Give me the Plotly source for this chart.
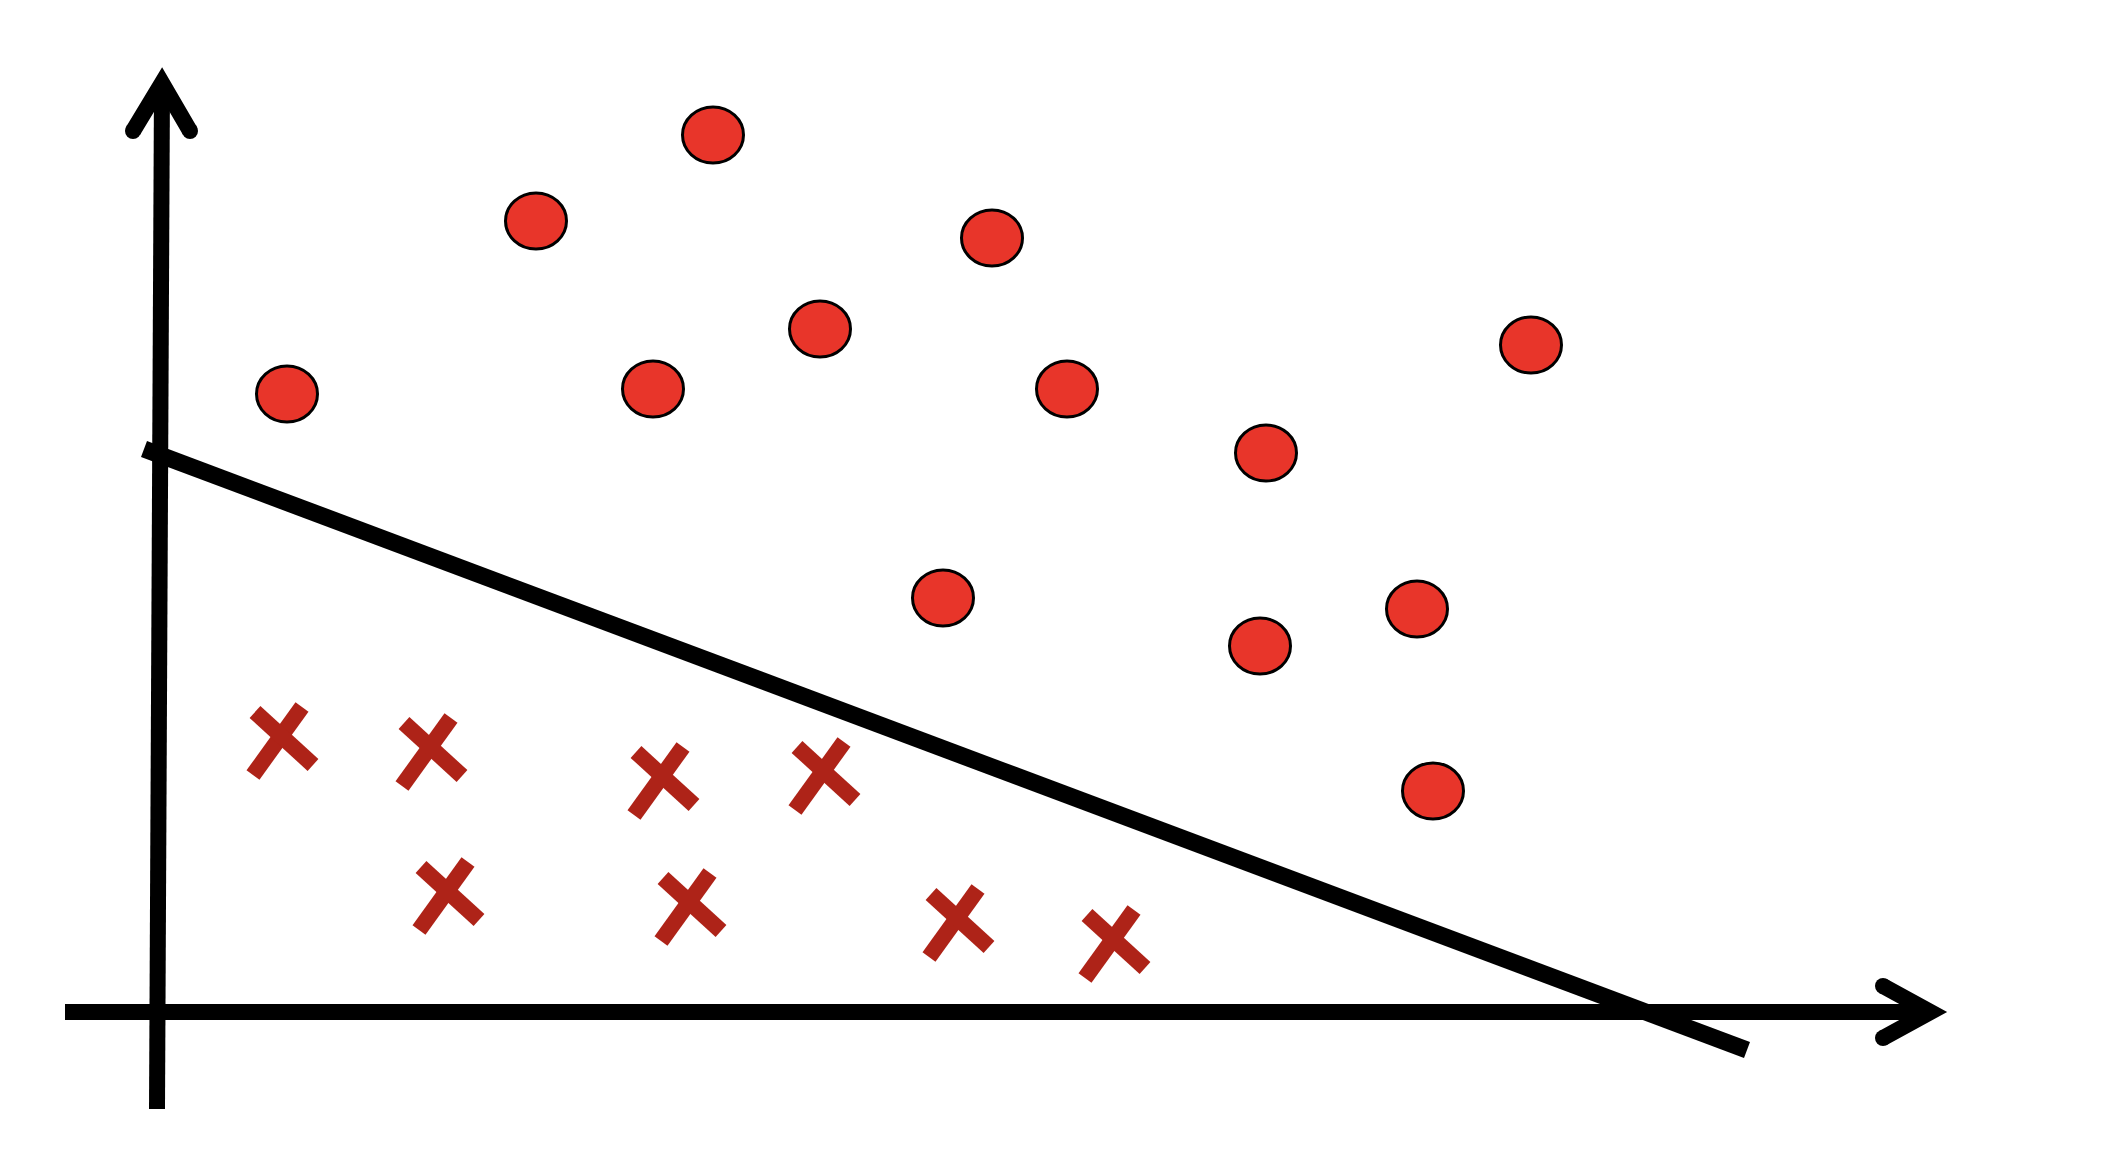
import plotly.graph_objects as go

# ---- data (axis units: origin at the axes crossing) ----
class_pos_x = [1.30, 3.79, 5.56, 4.96, 6.63, 8.35, 9.10, 11.09, 13.74, 7.86, 11.03, 12.60, 12.76]
class_pos_y = [6.18, 7.91, 8.77, 6.23, 6.83, 7.74, 6.23, 5.59, 6.67, 4.14, 3.66, 4.03, 2.21]

class_neg_x = [1.24, 2.73, 5.05, 6.66, 2.90, 5.32, 8.00, 9.56]
class_neg_y = [2.76, 2.65, 2.36, 2.41, 1.21, 1.10, 0.94, 0.73]

boundary_x = [-0.13, 15.90]
boundary_y = [5.63, -0.38]

xaxis_line_x = [-0.92, 17.735]
xaxis_line_y = [0.0, 0.0]
yaxis_line_x = [0.0, 0.05]
yaxis_line_y = [-0.97, 9.29]

# ---- styles ----
RED = "#E8352A"
DARK_RED = "#AE2318"
AXW = 16

fig = go.Figure()

fig.add_trace(go.Scatter(x=xaxis_line_x, y=xaxis_line_y, mode="lines",
                         line=dict(color="black", width=AXW), hoverinfo="skip"))
fig.add_trace(go.Scatter(x=yaxis_line_x, y=yaxis_line_y, mode="lines",
                         line=dict(color="black", width=AXW), hoverinfo="skip"))
fig.add_trace(go.Scatter(x=boundary_x, y=boundary_y, mode="lines",
                         line=dict(color="black", width=17), hoverinfo="skip"))

shapes = []

# arrowheads (pixel geometry anchored at the axis ends)
def arrow(ax, ay, arms):
    (x1, y1), (x2, y2) = arms
    shapes.append(dict(type="path", xref="x", yref="y",
                       xsizemode="pixel", ysizemode="pixel", xanchor=ax, yanchor=ay,
                       path=f"M {x1} {y1} L 0 0 L {x2} {y2}",
                       line=dict(color="black", width=AXW), fillcolor="rgba(0,0,0,0)"))
    for (px, py) in arms:
        shapes.append(dict(type="circle", xref="x", yref="y",
                           xsizemode="pixel", ysizemode="pixel", xanchor=ax, yanchor=ay,
                           x0=px - AXW / 2, x1=px + AXW / 2, y0=py - AXW / 2, y1=py + AXW / 2,
                           fillcolor="black", line=dict(width=0)))

arrow(xaxis_line_x[1], xaxis_line_y[1], [(-47.5, 26), (-47.5, -26)])
arrow(yaxis_line_x[1], yaxis_line_y[1], [(-29, -48), (28, -48)])

# circles (ellipses)
for x, y in zip(class_pos_x, class_pos_y):
    shapes.append(dict(type="circle", xref="x", yref="y",
                       xsizemode="pixel", ysizemode="pixel", xanchor=x, yanchor=y,
                       x0=-30.5, x1=30.5, y0=-28, y1=28,
                       fillcolor=RED, line=dict(color="black", width=3)))

# crosses
for x, y in zip(class_neg_x, class_neg_y):
    for (a, b, c, d) in [(21, 29, -28, -39), (-26, 24, 32, -29)]:
        shapes.append(dict(type="line", xref="x", yref="y",
                           xsizemode="pixel", ysizemode="pixel", xanchor=x, yanchor=y,
                           x0=a, y0=b, x1=c, y1=d,
                           line=dict(color=DARK_RED, width=16)))

fig.update_layout(
    width=2116, height=1150,
    margin=dict(l=0, r=0, t=0, b=0),
    paper_bgcolor="white", plot_bgcolor="white",
    showlegend=False,
    shapes=shapes,
    xaxis=dict(range=[-1.57, 19.59], visible=False, showgrid=False, zeroline=False),
    yaxis=dict(range=[-1.38, 10.12], visible=False, showgrid=False, zeroline=False),
)

fig.write_html("out.html")
